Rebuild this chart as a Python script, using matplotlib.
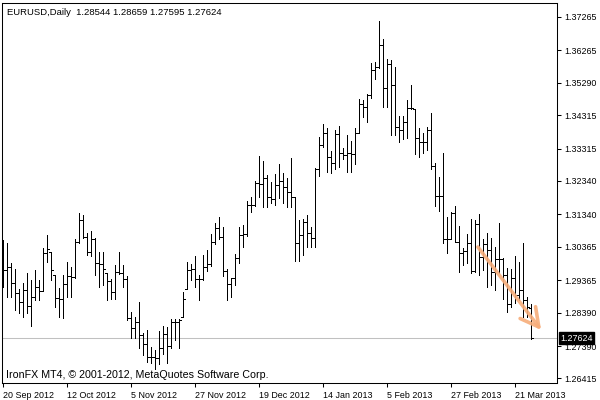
import matplotlib
matplotlib.use("Agg")
import matplotlib.pyplot as plt
import matplotlib.transforms as mtransforms

# ---------------- data (EURUSD daily, 20 Sep 2012 .. 27 Mar 2013) ----------------
opens = [1.2973, 1.2967, 1.2976, 1.2928, 1.2898, 1.2871, 1.2907, 1.2859, 1.2886, 1.2916,
         1.2904, 1.3018, 1.3021, 1.2952, 1.2883, 1.2880, 1.2925, 1.2949, 1.2946, 1.3051,
         1.3117, 1.3066, 1.3021, 1.3060, 1.2988, 1.2985, 1.2958, 1.2934, 1.2901, 1.2961,
         1.2958, 1.2940, 1.2823, 1.2793, 1.2811, 1.2772, 1.2745, 1.2706, 1.2706, 1.2703,
         1.2733, 1.2775, 1.2739, 1.2811, 1.2811, 1.2826, 1.2910, 1.2967, 1.2970, 1.2940,
         1.2940, 1.2976, 1.2985, 1.3051, 1.3093, 1.3066, 1.2964, 1.2925, 1.2943, 1.3003,
         1.3072, 1.3075, 1.3162, 1.3162, 1.3228, 1.3225, 1.3243, 1.3186, 1.3180, 1.3222,
         1.3234, 1.3216, 1.3201, 1.3186, 1.3048, 1.3072, 1.3111, 1.3078, 1.3063, 1.3270,
         1.3342, 1.3378, 1.3306, 1.3288, 1.3375, 1.3318, 1.3312, 1.3318, 1.3315, 1.3378,
         1.3465, 1.3456, 1.3492, 1.3567, 1.3576, 1.3642, 1.3513, 1.3585, 1.3522, 1.3396,
         1.3387, 1.3411, 1.3453, 1.3450, 1.3363, 1.3351, 1.3351, 1.3387, 1.3279, 1.3189,
         1.3189, 1.3060, 1.3060, 1.3138, 1.3051, 1.3018, 1.3024, 1.3048, 1.2964, 1.3105,
         1.3006, 1.3045, 1.3027, 1.2961, 1.3000, 1.3000, 1.2952, 1.2865, 1.2943, 1.2892,
         1.2907, 1.2877, 1.28544]
highs = [1.3057, 1.3048, 1.2988, 1.2970, 1.2910, 1.2928, 1.2958, 1.2937, 1.2967, 1.2937,
         1.3033, 1.3072, 1.3021, 1.2952, 1.2913, 1.2952, 1.2991, 1.2976, 1.3060, 1.3138,
         1.3132, 1.3078, 1.3084, 1.3063, 1.3021, 1.3021, 1.2958, 1.2940, 1.2982, 1.3021,
         1.2982, 1.2949, 1.2841, 1.2826, 1.2871, 1.2778, 1.2787, 1.2736, 1.2727, 1.2784,
         1.2799, 1.2796, 1.2820, 1.2820, 1.2820, 1.2901, 1.2991, 1.2985, 1.3009, 1.2952,
         1.3012, 1.3027, 1.3075, 1.3108, 1.3126, 1.3096, 1.2970, 1.2943, 1.3015, 1.3096,
         1.3102, 1.3174, 1.3186, 1.3234, 1.3309, 1.3294, 1.3252, 1.3231, 1.3255, 1.3285,
         1.3258, 1.3243, 1.3303, 1.3186, 1.3117, 1.3120, 1.3132, 1.3096, 1.3273, 1.3366,
         1.3405, 1.3393, 1.3324, 1.3387, 1.3399, 1.3333, 1.3372, 1.3354, 1.3393, 1.3480,
         1.3477, 1.3495, 1.3588, 1.3591, 1.3714, 1.3660, 1.3600, 1.3597, 1.3576, 1.3429,
         1.3429, 1.3477, 1.3522, 1.3450, 1.3393, 1.3378, 1.3396, 1.3438, 1.3288, 1.3246,
         1.3318, 1.3126, 1.3141, 1.3159, 1.3099, 1.3033, 1.3075, 1.3120, 1.3117, 1.3135,
         1.3060, 1.3078, 1.3063, 1.3036, 1.3108, 1.3003, 1.2973, 1.2970, 1.3009, 1.2991,
         1.3048, 1.2886, 1.28659]
lows = [1.2916, 1.2886, 1.2886, 1.2847, 1.2838, 1.2826, 1.2838, 1.2799, 1.2877, 1.2877,
        1.2904, 1.2991, 1.2937, 1.2856, 1.2826, 1.2823, 1.2886, 1.2886, 1.2943, 1.3048,
        1.3063, 1.3012, 1.3009, 1.2952, 1.2916, 1.2922, 1.2877, 1.2880, 1.2880, 1.2955,
        1.2916, 1.2817, 1.2763, 1.2763, 1.2733, 1.2712, 1.2691, 1.2688, 1.2670, 1.2685,
        1.2715, 1.2688, 1.2733, 1.2757, 1.2733, 1.2826, 1.2910, 1.2937, 1.2916, 1.2877,
        1.2937, 1.2964, 1.2979, 1.3045, 1.3060, 1.2949, 1.2877, 1.2886, 1.2922, 1.2988,
        1.3036, 1.3069, 1.3141, 1.3159, 1.3186, 1.3156, 1.3156, 1.3168, 1.3162, 1.3183,
        1.3168, 1.3156, 1.3156, 1.2994, 1.2994, 1.3012, 1.3036, 1.3036, 1.3036, 1.3249,
        1.3336, 1.3261, 1.3258, 1.3270, 1.3276, 1.3300, 1.3261, 1.3261, 1.3285, 1.3378,
        1.3426, 1.3411, 1.3483, 1.3540, 1.3573, 1.3456, 1.3456, 1.3372, 1.3372, 1.3351,
        1.3360, 1.3363, 1.3450, 1.3315, 1.3306, 1.3318, 1.3327, 1.3270, 1.3159, 1.3144,
        1.3048, 1.3018, 1.3060, 1.3051, 1.2961, 1.2982, 1.2988, 1.2958, 1.2961, 1.2952,
        1.2967, 1.2916, 1.2922, 1.2907, 1.2958, 1.2880, 1.2841, 1.2856, 1.2868, 1.2877,
        1.2826, 1.2826, 1.27595]
closes = [1.2967, 1.2976, 1.2928, 1.2898, 1.2871, 1.2907, 1.2859, 1.2886, 1.2916, 1.2904,
          1.3018, 1.3030, 1.2967, 1.2883, 1.2880, 1.2925, 1.2949, 1.2946, 1.3051, 1.3117,
          1.3066, 1.3021, 1.3060, 1.2988, 1.2985, 1.2970, 1.2934, 1.2901, 1.2961, 1.2958,
          1.2940, 1.2823, 1.2793, 1.2811, 1.2772, 1.2745, 1.2706, 1.2706, 1.2703, 1.2733,
          1.2775, 1.2739, 1.2811, 1.2811, 1.2817, 1.2880, 1.2967, 1.2970, 1.2940, 1.2940,
          1.2976, 1.2985, 1.3051, 1.3093, 1.3066, 1.2964, 1.2925, 1.2943, 1.3003, 1.3072,
          1.3075, 1.3162, 1.3162, 1.3228, 1.3225, 1.3243, 1.3186, 1.3180, 1.3222, 1.3234,
          1.3216, 1.3201, 1.3186, 1.3048, 1.3072, 1.3111, 1.3078, 1.3063, 1.3270, 1.3342,
          1.3378, 1.3306, 1.3288, 1.3375, 1.3318, 1.3312, 1.3318, 1.3315, 1.3378, 1.3465,
          1.3456, 1.3492, 1.3567, 1.3576, 1.3642, 1.3513, 1.3585, 1.3522, 1.3396, 1.3387,
          1.3411, 1.3453, 1.3453, 1.3363, 1.3351, 1.3351, 1.3387, 1.3279, 1.3189, 1.3189,
          1.3060, 1.3060, 1.3138, 1.3051, 1.3018, 1.3024, 1.3048, 1.2964, 1.3105, 1.3006,
          1.3045, 1.3027, 1.2961, 1.3000, 1.3000, 1.2952, 1.2865, 1.2943, 1.2892, 1.2907,
          1.2877, 1.2856, 1.27624]

date_labels = ["20 Sep 2012", "12 Oct 2012", "5 Nov 2012", "27 Nov 2012", "19 Dec 2012",
               "14 Jan 2013", "5 Feb 2013", "27 Feb 2013", "21 Mar 2013"]
date_label_bars = [0, 16, 32, 48, 64, 80, 96, 112, 128]

price_ticks = [1.37265, 1.36265, 1.35290, 1.34315, 1.33315, 1.32340, 1.31340,
               1.30365, 1.29365, 1.28390, 1.27390, 1.26415]
price_tick_labels = ["1.37265", "1.36265", "1.35290", "1.34315", "1.33315", "1.32340",
                     "1.31340", "1.30365", "1.29365", "1.28390", "1.27390", "1.26415"]

symbol_title = "EURUSD,Daily"
current_price = 1.27624
copyright_text = "IronFX MT4, \u00a9 2001-2012, MetaQuotes Software Corp."

# trend arrow annotation (bar index, price)
arrow_start = (118.6, 1.3036)
arrow_end = (134.4, 1.2787)

# ---------------- drawing ----------------
FONT = "Liberation Sans"
W, H = 600, 400
fig = plt.figure(figsize=(W / 100, H / 100), dpi=100)
fig.patch.set_facecolor("white")

ax_left_px, ax_right_px, ax_top_px, ax_bottom_px = 1.5, 557.0, 3.0, 383.0
ax = fig.add_axes([ax_left_px / W, 1 - ax_bottom_px / H,
                   (ax_right_px - ax_left_px) / W, (ax_bottom_px - ax_top_px) / H])
ax.set_facecolor("white")

n = len(closes)
xs = list(range(n))

ax.set_xlim(-0.5, -0.5 + (ax_right_px - ax_left_px) / 4.0)
ax.set_ylim(1.2628, 1.3768)

# current price line
ax.axhline(current_price, color="#c0c0c0", lw=0.75, zorder=1)

bar_lw = 0.5
ax.vlines(xs, lows, highs, color="black", lw=bar_lw, antialiased=False, zorder=2)
ax.hlines(opens, [x - 0.5 for x in xs], xs, color="black", lw=bar_lw, antialiased=False, zorder=2)
ax.hlines(closes, xs, [x + 0.5 for x in xs], color="black", lw=bar_lw, antialiased=False, zorder=2)

# arrow
ax.annotate("", xy=arrow_end, xytext=arrow_start,
            arrowprops=dict(arrowstyle="->,head_length=1.3,head_width=0.7",
                            color="#f7ad7a", lw=2.6, alpha=0.9,
                            shrinkA=0, shrinkB=0), zorder=4)

# spines
for s in ax.spines.values():
    s.set_color("black")
    s.set_linewidth(0.75)

# axes ticks
ax.yaxis.tick_right()
ax.set_yticks(price_ticks)
ax.set_yticklabels(price_tick_labels, fontfamily=FONT, fontsize=6.4)
ax.tick_params(axis="y", direction="out", length=3, width=0.75, pad=2.5, colors="black")

ax.set_xticks(date_label_bars)
ax.set_xticklabels(date_labels, fontfamily=FONT, fontsize=6.4)
ax.tick_params(axis="x", direction="out", length=3, width=0.75, pad=2.5, colors="black")
for lab in ax.get_xticklabels():
    lab.set_horizontalalignment("left")

# current price box on right axis
trans = mtransforms.blended_transform_factory(ax.transAxes, ax.transData)
ax.text(1.0 + 3.5 / (ax_right_px - ax_left_px), current_price, f"{current_price:.5f}",
        transform=trans, ha="left", va="center", color="white",
        fontfamily=FONT, fontsize=6.4, clip_on=False, zorder=10,
        bbox=dict(boxstyle="square,pad=0.15", facecolor="black", edgecolor="black"))

# header & footer texts
header = f"{symbol_title}  {opens[-1]:.5f} {highs[-1]:.5f} {lows[-1]:.5f} {closes[-1]:.5f}"
fig.text(7 / W, 1 - 12.5 / H, header, ha="left", va="center",
         fontfamily=FONT, fontsize=6.8, color="black")
fig.text(5.5 / W, 1 - 375 / H, copyright_text, ha="left", va="center",
         fontfamily=FONT, fontsize=7.7, color="black")

fig.savefig("out.png", dpi=100, facecolor="white")
